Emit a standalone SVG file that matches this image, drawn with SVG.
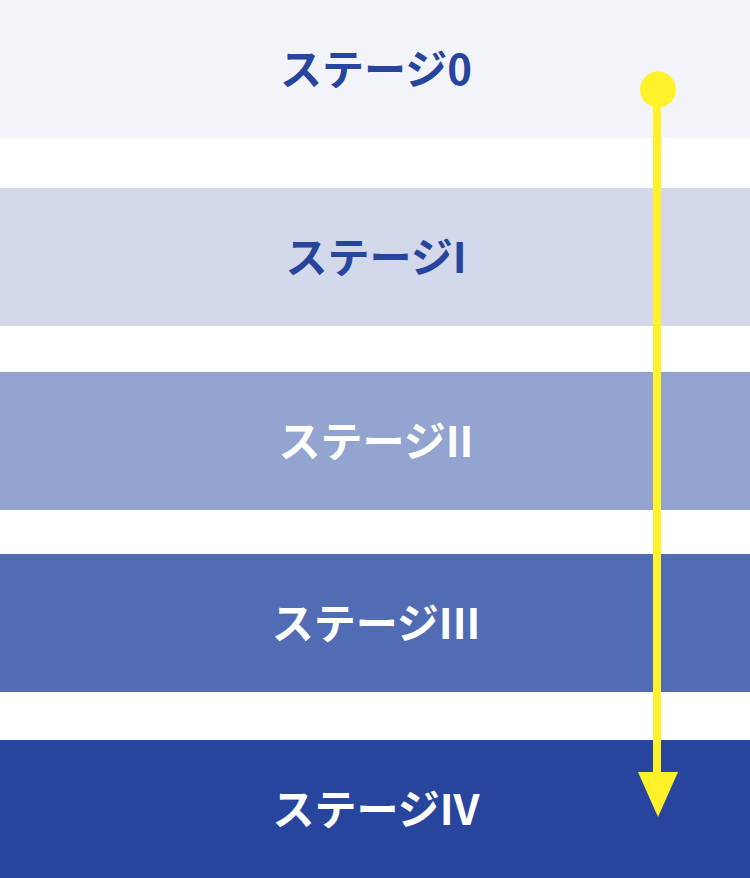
<svg xmlns="http://www.w3.org/2000/svg" width="750" height="878" viewBox="0 0 750 878">
<style>
.lbl{font-family:"Noto Sans CJK JP","Noto Sans",sans-serif;font-weight:bold;font-size:42px;text-anchor:middle;dominant-baseline:central}
.dark{fill:#28459d}
.light{fill:#ffffff}
</style>
<rect width="750" height="878" fill="#ffffff"/>
<g id="stage0"><rect x="0" y="0" width="750" height="138" fill="#f2f4fa"/><text class="lbl dark" x="376" y="66">ステージ0</text></g>
<g id="stage1"><rect x="0" y="188" width="750" height="138" fill="#d3d8ea"/><text class="lbl dark" x="376" y="254">ステージI</text></g>
<g id="stage2"><rect x="0" y="372" width="750" height="138" fill="#94a4d0"/><text class="lbl light" x="376" y="438">ステージII</text></g>
<g id="stage3"><rect x="0" y="554" width="750" height="138" fill="#516bb5"/><text class="lbl light" x="376" y="620">ステージIII</text></g>
<g id="stage4"><rect x="0" y="740" width="750" height="138" fill="#28459d"/><text class="lbl light" x="376" y="806">ステージIV</text></g>
<g id="connectors">
<circle cx="658" cy="89.5" r="18" fill="#fff22a"/>
<rect x="653" y="90" width="8" height="684" fill="#fff22a"/>
<polygon points="638,772 678,772 658,817" fill="#fff22a"/>
</g>
</svg>
